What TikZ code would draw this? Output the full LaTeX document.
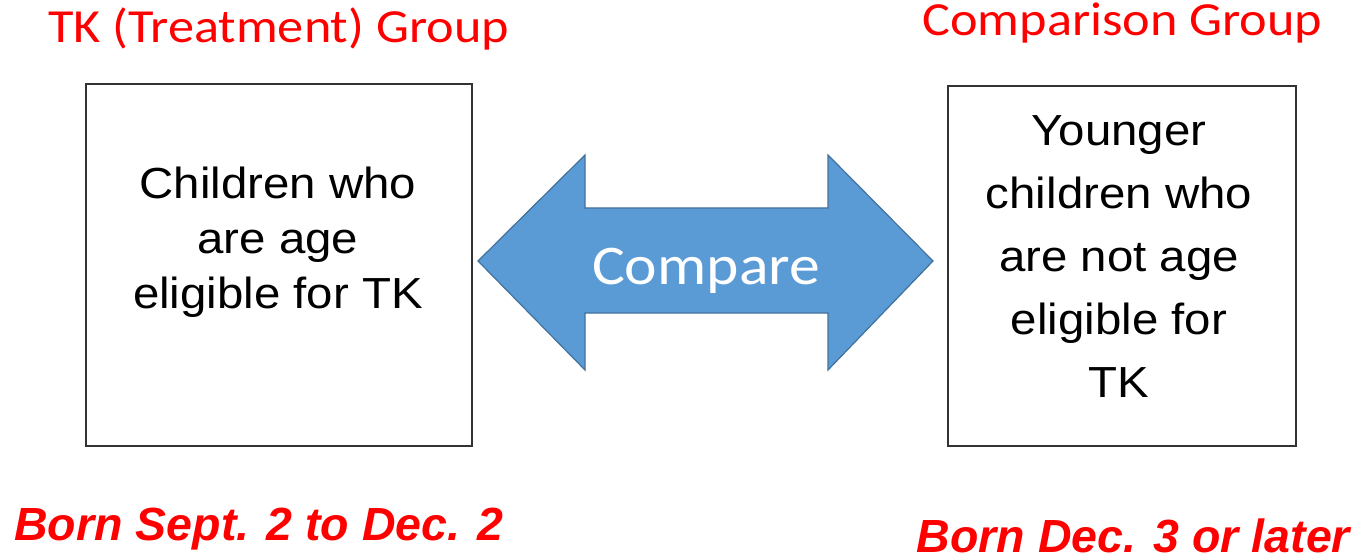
\documentclass[tikz,border=0pt]{standalone}
\usepackage{fontspec}
\setmainfont{Liberation Sans}
\newfontfamily\calib[FakeStretch=1.1]{Carlito}
\newfontfamily\arialw[FakeStretch=1.09]{Liberation Sans}
\definecolor{arrfill}{HTML}{5B9BD5}
\definecolor{arrline}{HTML}{41719C}
\definecolor{titred}{HTML}{FF0000}
\begin{document}
\begin{tikzpicture}[x=1pt,y=-1pt,
  box/.style={draw=black!80,line width=1.5pt},
  title/.style={text=titred,font=\calib\fontsize{47.5}{56}\selectfont,anchor=base,inner sep=0pt},
  born/.style={text=titred,font=\bfseries\itshape\fontsize{46.5}{56}\selectfont,anchor=base,inner sep=0pt,text depth=0pt},
  boxtext/.style={align=center,anchor=north,inner sep=0pt}]
\useasboundingbox (0,0) rectangle (1362,556);
\draw[box] (86,84) rectangle (472,446);
\draw[box] (948,86) rectangle (1296,446);
\node[title] (t1) at (278.5,43) {TK (Treatment) Group};
\node[title] (t2) at (1122.5,36) {Comparison Group};
\node[boxtext,font=\arialw\fontsize{43.5}{55}\selectfont] (lt) at (278,167) {Children who\\are age\\eligible for TK};
\node[boxtext,font=\arialw\fontsize{43.5}{63}\selectfont] (rt) at (1119,115) {Younger\\children who\\are not age\\eligible for\\TK};
\draw[fill=arrfill,draw=arrline,line width=1.2pt,line join=miter]
  (478,261) -- (585,155) -- (585,208) -- (828,208) -- (828,155) -- (933,261)
  -- (828,370) -- (828,313) -- (585,313) -- (585,370) -- cycle;
\node[text=white,font=\calib\fontsize{56}{66}\selectfont,anchor=base,inner sep=0pt] (cmp) at (706,284) {Compare};
\node[born] (b1) at (259,540) {Born Sept. 2 to Dec. 2};
\node[born] (b2) at (1133.5,552) {Born Dec. 3 or later};
\end{tikzpicture}
\end{document}
